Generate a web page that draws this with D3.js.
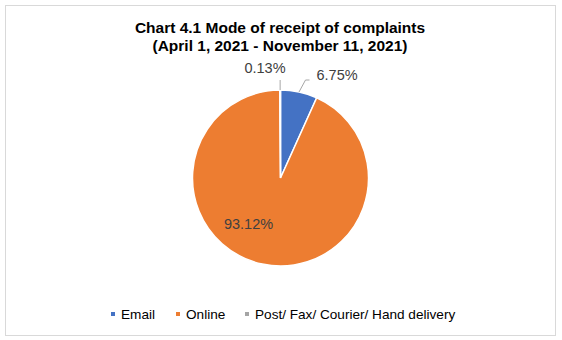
<!DOCTYPE html>
<html><head><meta charset="utf-8">
<script src="https://cdn.jsdelivr.net/npm/d3@7"></script>
<style>body{margin:0;background:#fff}svg{display:block;font-family:"Liberation Sans",Arial,sans-serif}</style>
</head><body><svg id="c" width="562" height="340"></svg>
<script>
const categories = ["Email", "Online", "Post/ Fax/ Courier/ Hand delivery"];
const values = [6.75, 93.12, 0.13];
const labels = ["6.75%", "93.12%", "0.13%"];
const colors = ["#4472C4", "#ED7D31", "#A5A5A5"];
const titleLines = ["Chart 4.1 Mode of receipt of complaints", "(April 1, 2021 - November 11, 2021)"];

const svg = d3.select("#c");
svg.append("rect").attr("x",5.5).attr("y",5.5).attr("width",550).attr("height",330)
  .attr("fill","#fff").attr("stroke","#d9d9d9").attr("stroke-width",1);

svg.selectAll("text.title").data(titleLines).join("text").attr("class","title")
  .attr("x",280).attr("y",(d,i)=>33+i*18).attr("text-anchor","middle")
  .attr("font-weight","bold").attr("font-size",15.5).attr("fill","#000").text(d=>d);

const cx=280.5, cy=178, r=88;
const color = d3.scaleOrdinal().domain(categories).range(colors);
const pie = d3.pie().sort(null).value(d=>d.v);
const data = categories.map((c,i)=>({c, v:values[i], l:labels[i]}));
const arcs = pie(data);
const arc = d3.arc().innerRadius(0).outerRadius(r);
const g = svg.append("g").attr("transform",`translate(${cx},${cy})`);
g.selectAll("path").data(arcs).join("path").attr("d",arc)
  .attr("fill",d=>color(d.data.c)).attr("stroke","#fff").attr("stroke-width",1.5);

const lab = g.append("g").attr("font-size",14.5).attr("fill","#404040");
// Email label outside with leader
const eA = arcs[0];
const em = (eA.startAngle+eA.endAngle)/2;
const p0 = [Math.sin(em)*r, -Math.cos(em)*r];
lab.append("polyline").attr("points",`${p0[0]},${p0[1]} 25,-98 29,-98`)
  .attr("fill","none").attr("stroke","#a6a6a6").attr("stroke-width",1);
lab.append("text").attr("x",36).attr("y",-98.5).text(arcs[0].data.l);
// Online
lab.append("text").attr("x",248.5-cx).attr("y",229-cy).attr("text-anchor","middle").text(arcs[1].data.l);
// Post
const pA = arcs[2];
const pm = (pA.startAngle+pA.endAngle)/2;
const q0 = [Math.sin(pm)*r, -Math.cos(pm)*r];
lab.append("line").attr("x1",q0[0]).attr("y1",q0[1]).attr("x2",q0[0]).attr("y2",-98)
  .attr("stroke","#a6a6a6").attr("stroke-width",1);
lab.append("text").attr("x",-15.5).attr("y",-105).attr("text-anchor","middle").text(arcs[2].data.l);

// legend
const legX = [113, 178, 247];
const leg = svg.append("g").attr("font-size",13.6).attr("fill","#000");
const li = leg.selectAll("g").data(categories).join("g").attr("transform",(d,i)=>`translate(${legX[i]},314)`);
li.append("rect").attr("x",-2).attr("y",-2).attr("width",4).attr("height",4).attr("fill",d=>color(d));
li.append("text").attr("x",8).attr("y",5).attr("fill","#000").text(d=>d);
</script></body></html>
